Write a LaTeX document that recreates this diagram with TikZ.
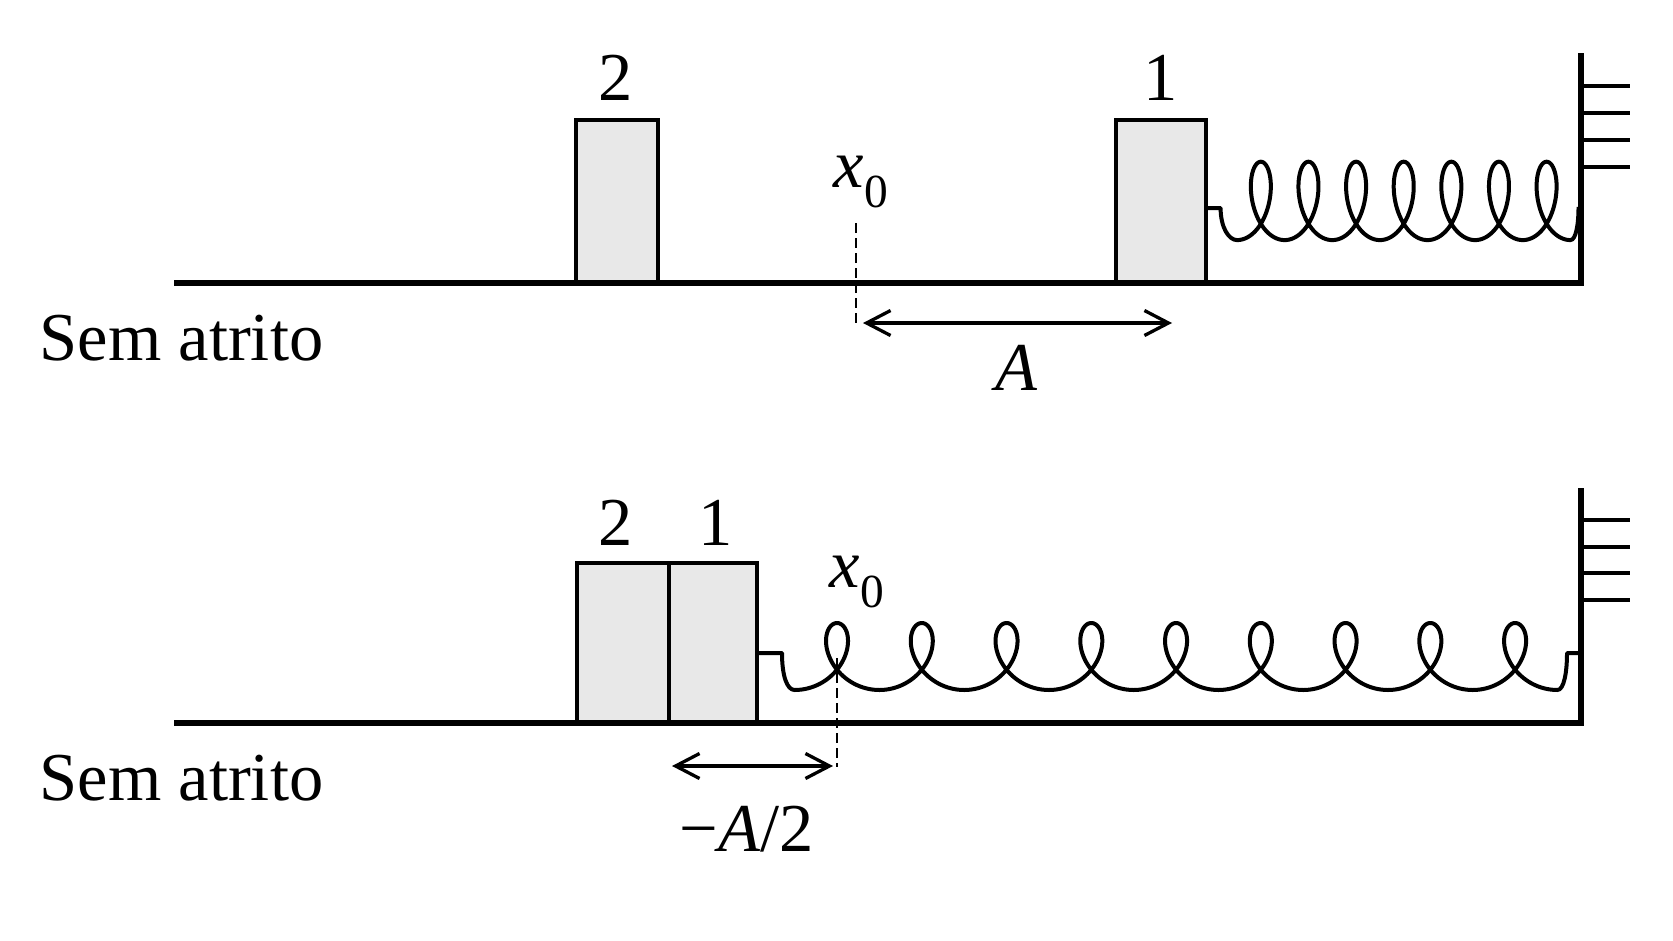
\documentclass[tikz,border=0pt]{standalone}
\usepackage{fontspec}
\setmainfont{Liberation Serif}
\usetikzlibrary{arrows.meta,calc}
\definecolor{blockfill}{RGB}{232,232,232}
\newcommand\labfont{\fontsize{19.5}{22}\selectfont}
\newcommand\subfont{\fontsize{13.5}{14}\selectfont}
\tikzset{
  floorline/.style={line width=0.6mm, line join=miter},
  tickline/.style={line width=0.4mm},
  blockbox/.style={draw, line width=0.4mm, fill=blockfill, inner sep=0pt, outer sep=0pt, anchor=south west},
  springline/.style={line width=0.4mm, line join=round},
  guide/.style={line width=0.27mm, dash pattern=on 1mm off 0.5mm},
  dimarrow/.style={line width=0.33mm, {Straight Barb[length=2.4mm,width=2.5mm]}-{Straight Barb[length=2.4mm,width=2.5mm]}},
  lab/.style={inner sep=0pt, font=\labfont, anchor=base},
}
\begin{document}
\begin{tikzpicture}[x=0.1mm, y=-0.1mm]
\useasboundingbox (0,0) rectangle (1673,940);
\fill[white] (0,0) rectangle (1673,940);

% ---------------- top panel ----------------
\node[blockbox, minimum width=8.2mm, minimum height=16.3mm] (b2a) at (576,283) {};
\node[blockbox, minimum width=9mm, minimum height=16.3mm] (b1a) at (1116,283) {};
\node[lab] (l2a) at (616,100) {2};
\node[lab] (l1a) at (1161,100) {1};

\coordinate (fla) at (174,283);
\coordinate (wca) at (1581,283);
\coordinate (wta) at (1581,53);
\draw[floorline] (fla) -- (wca) -- (wta);
\foreach \yy in {86,113,140,167}
  \draw[tickline] (1581,\yy) -- (1630,\yy);

\draw[springline] ([yshift=7.5mm]b1a.south east) -- (1220.6,208)
  .. controls (1220.6,228) and (1229,240.1) .. (1237.0,240.1)
  -- plot[domain=pi:15*pi, samples=561, variable=\t]
     ({1213.2+7.58*\t-20.5*sin(\t r)}, {200.9-39.2*cos(\t r)})
  .. controls (1576,240.1) and (1578.5,224) .. (1578.5,207);

\node[lab, anchor=base west] (x0a) at (833,187) {\textit{x}\raisebox{-2mm}{\subfont 0}};
\coordinate (da1) at (856,223);
\coordinate (da2) at (856,325);
\draw[guide] (da1) -- (da2);
\coordinate (aa1) at (863,323);
\coordinate (aa2) at (1172,323);
\draw[dimarrow] (aa1) -- (aa2);
\node[lab] (la) at (1017,390) {\textit{A}};
\node[lab, anchor=base west] (sa) at (39,360) {Sem atrito};

% ---------------- bottom panel ----------------
\node[blockbox, minimum width=9.2mm, minimum height=16mm] (b2b) at (577,723) {};
\node[blockbox, minimum width=8.8mm, minimum height=16mm] (b1b) at (669,723) {};
\node[lab] (l2b) at (616,545) {2};
\node[lab] (l1b) at (716,545) {1};

\coordinate (flb) at (174,723);
\coordinate (wcb) at (1581,723);
\coordinate (wtb) at (1581,488);
\draw[floorline] (flb) -- (wcb) -- (wtb);
\foreach \yy in {520,547,573,600}
  \draw[tickline] (1581,\yy) -- (1630,\yy);

\draw[springline] ([yshift=7mm]b1b.south east) -- (782,653)
  .. controls (782,676) and (787,690) .. (794.63,690)
  -- plot[domain=pi:19*pi, samples=721, variable=\t]
     ({752.25+13.49*\t-29*sin(\t r)}, {656.5-33.5*cos(\t r)})
  .. controls (1564,690) and (1567,672) .. (1567,653) -- (1578.5,653);

\node[lab, anchor=base west] (x0b) at (829,587) {\textit{x}\raisebox{-2mm}{\subfont 0}};
\coordinate (db1) at (837,658);
\coordinate (db2) at (837,767);
\draw[guide] (db1) -- (db2);
\coordinate (ab1) at (672,766);
\coordinate (ab2) at (833,766);
\draw[dimarrow] (ab1) -- (ab2);
\node[lab] (lb) at (747,851) {−\textit{A}/2};
\node[lab, anchor=base west] (sb) at (39,800) {Sem atrito};
\end{tikzpicture}
\end{document}
